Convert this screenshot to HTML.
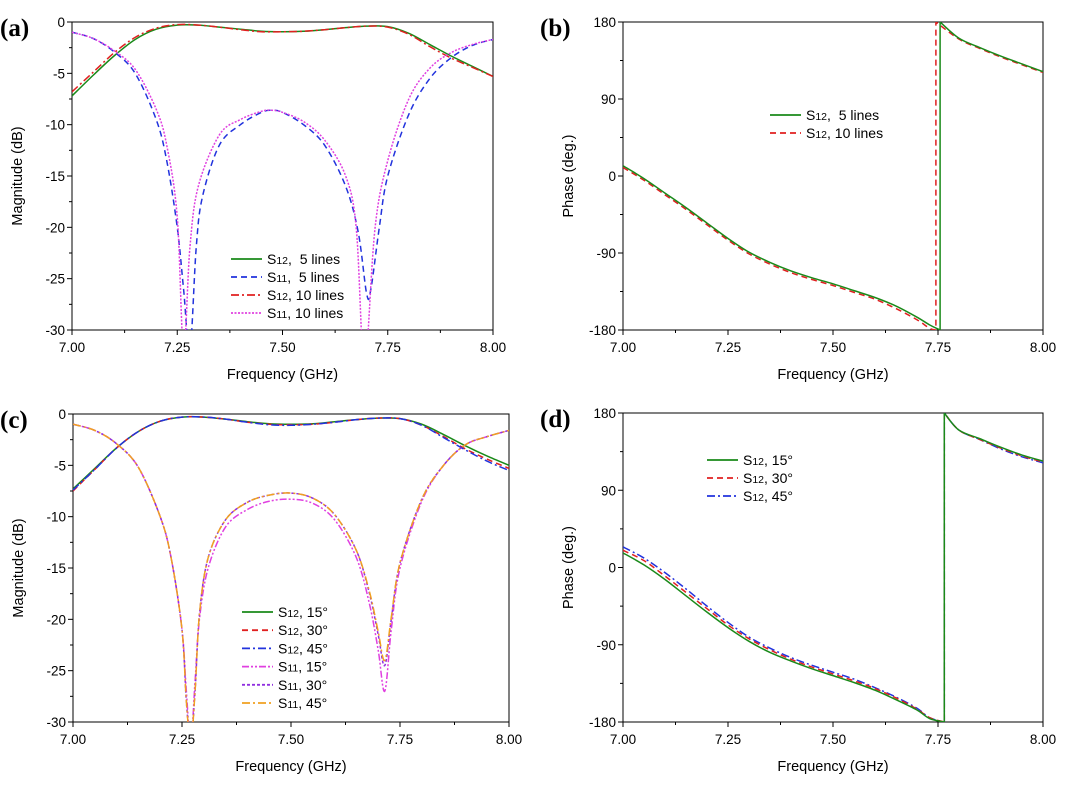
<!DOCTYPE html>
<html><head><meta charset="utf-8"><style>
html,body{margin:0;padding:0;background:#fff;}
svg{display:block;font-family:"Liberation Sans",sans-serif;}
</style></head><body>
<svg id="fig" width="1080" height="793" viewBox="0 0 1080 793"></svg>
<script>
// ---- Data ----
const fA = [7.00,7.05,7.10,7.15,7.20,7.25,7.30,7.35,7.40,7.45,7.50,7.55,7.60,7.65,7.70,7.75,7.80,7.85,7.90,7.95,8.00];
const aS12_5 = [-7.2,-5.2,-3.3,-1.7,-0.7,-0.3,-0.3,-0.5,-0.7,-0.9,-0.95,-0.9,-0.75,-0.55,-0.4,-0.45,-1.1,-2.2,-3.3,-4.3,-5.3];
const aS12_10 = [-6.8,-4.9,-3.0,-1.5,-0.6,-0.25,-0.3,-0.5,-0.75,-0.95,-0.95,-0.9,-0.75,-0.55,-0.4,-0.5,-1.2,-2.4,-3.5,-4.4,-5.3];
const fS11a5 = [7.00,7.05,7.10,7.15,7.20,7.225,7.25,7.265,7.28,7.295,7.31,7.35,7.40,7.45,7.475,7.50,7.55,7.60,7.65,7.68,7.70,7.71,7.73,7.75,7.80,7.85,7.90,7.95,8.00];
const aS11_5 = [-1.0,-1.6,-2.9,-5.0,-9.5,-13.5,-20,-26,-32,-22,-17,-12,-10,-8.8,-8.6,-8.8,-10,-12,-16,-20.5,-26.5,-26,-20,-15,-9,-5.5,-3.5,-2.3,-1.7];
const fS11a10 = [7.00,7.05,7.10,7.15,7.20,7.225,7.25,7.265,7.28,7.30,7.35,7.40,7.45,7.475,7.50,7.55,7.60,7.65,7.675,7.69,7.70,7.72,7.75,7.80,7.85,7.90,7.95,8.00];
const aS11_10 = [-1.0,-1.6,-2.8,-4.6,-8.5,-12,-19,-32,-22,-16,-11,-9.5,-8.7,-8.6,-8.8,-9.7,-11.5,-15,-20,-32,-32,-20,-13.5,-7.5,-4.5,-3.0,-2.2,-1.7];

const fPh = [7.00,7.05,7.10,7.15,7.20,7.25,7.30,7.35,7.40,7.45,7.50,7.55,7.60,7.65,7.70,7.73];
const bPh5 = [12,-3,-20,-37,-55,-73,-89,-101,-111,-119,-126,-134,-142,-152,-165,-174];
const bPh10 = [10,-5,-22,-39,-57,-75,-91,-103,-113,-121,-128,-136,-144,-155,-168,-178];
const fPh2 = [7.80,7.85,7.90,7.95,8.00];
const bPhB5 = [161,150,140,131,122];
const bPhB10 = [160,149,139,130,121];
const bJump5 = 7.755, bJump10 = 7.745;

const cS12_15 = [-7.3,-5.3,-3.3,-1.7,-0.7,-0.3,-0.3,-0.5,-0.75,-0.95,-1.0,-0.95,-0.75,-0.55,-0.4,-0.45,-1.0,-2.0,-3.1,-4.1,-5.0];
const cS12_30 = [-7.5,-5.4,-3.3,-1.7,-0.7,-0.3,-0.3,-0.5,-0.8,-1.0,-1.05,-1.0,-0.8,-0.55,-0.4,-0.45,-1.1,-2.2,-3.4,-4.4,-5.3];
const cS12_45 = [-7.4,-5.4,-3.3,-1.7,-0.7,-0.3,-0.3,-0.5,-0.8,-1.05,-1.1,-1.0,-0.8,-0.55,-0.4,-0.45,-1.1,-2.3,-3.5,-4.6,-5.5];
const fC11 = [7.00,7.05,7.10,7.15,7.20,7.225,7.25,7.26,7.27,7.28,7.29,7.31,7.35,7.40,7.45,7.50,7.55,7.60,7.65,7.68,7.70,7.715,7.73,7.75,7.80,7.85,7.90,7.95,8.00];
const cS11_15 = [-1.0,-1.6,-2.9,-5.2,-10,-14,-21,-27,-32,-26,-20,-15,-11,-9.3,-8.5,-8.3,-8.7,-10.3,-14,-18.5,-23,-27,-21,-15,-8.5,-5,-3.0,-2.2,-1.6];
const cS11_30 = [-1.0,-1.6,-2.9,-5.2,-10,-14,-21,-28,-32,-27,-19.5,-14,-10.3,-8.6,-7.9,-7.7,-8.2,-9.8,-13.3,-17.5,-21.5,-24.5,-20,-14.5,-8.3,-5,-3.0,-2.2,-1.6];
const cS11_45 = [-1.0,-1.6,-2.9,-5.2,-10,-14,-21,-28,-32,-27,-19.5,-14,-10.3,-8.6,-7.9,-7.7,-8.2,-9.8,-13.3,-17.3,-21.2,-24,-19.8,-14.5,-8.3,-5,-3.0,-2.2,-1.6];

const dPh15 = [17,3,-14,-33,-52,-70,-86,-99,-109,-118,-126,-134,-143,-154,-166,-176];
const dPh30 = [20,8,-10,-29,-48,-67,-83,-96,-107,-116,-124,-132,-141,-152,-165,-175];
const dPh45 = [24,11,-6,-25,-45,-64,-81,-94,-105,-114,-122,-130,-140,-151,-164,-175];
const dPhB15 = [160,150,140,131,124];
const dPhB30 = [160,149,139,130,123];
const dPhB45 = [160,149,138,129,122];
const dJump = 7.765;

const xTicks = ["7.00","7.25","7.50","7.75","8.00"];
const magTicks = ["0","-5","-10","-15","-20","-25","-30"];
const phTicks = ["180","90","0","-90","-180"];

// ---- Drawing ----
const NS = "http://www.w3.org/2000/svg";
const svg = document.getElementById("fig");
function mk(tag, attrs, parent){const e=document.createElementNS(NS,tag);for(const k in attrs)e.setAttribute(k,attrs[k]);(parent||svg).appendChild(e);return e;}

function panel(id, box, ymin, ymax, yTickVals, yLabels, yMinorStep, ylabel, letter){
  const g = mk("g",{});
  
  
  const sx = v => box.x0 + (v-7)/(1)*(box.x1-box.x0);
  const sy = v => box.y0 + (ymax-v)/(ymax-ymin)*(box.y1-box.y0);
  const cp = mk("clipPath",{id:"clip"+id},g);
  mk("rect",{x:box.x0,y:box.y0,width:box.x1-box.x0,height:box.y1-box.y0},cp);
  const fr = mk("rect",{x:box.x0,y:box.y0,width:box.x1-box.x0,height:box.y1-box.y0,fill:"none",stroke:"#000","stroke-width":1},g);
  
  
  for(let i=0;i<=8;i++){const v=7+i*0.125;const x=sx(v);mk("line",{x1:x,y1:box.y1,x2:x,y2:box.y1+(i%2?3:5),stroke:"#000"},g);}
  xTicks.forEach(t=>{const tx=mk("text",{x:sx(+t),y:box.y1+22,"text-anchor":"middle","font-size":13.5},g);tx.textContent=t;
    
    });
  for(let v=ymin; v<=ymax+1e-9; v+=yMinorStep){const y=sy(v);const major=yTickVals.some(t=>Math.abs(t-v)<1e-6);mk("line",{x1:box.x0,y1:y,x2:box.x0-(major?5:3),y2:y,stroke:"#000"},g);}
  yTickVals.forEach((v,i)=>{const tx=mk("text",{x:box.x0-7,y:sy(v)+5,"text-anchor":"end","font-size":13.5},g);tx.textContent=yLabels[i];
    
    });
  const xl = mk("text",{x:(box.x0+box.x1)/2,y:box.y1+49,"text-anchor":"middle","font-size":14.5},g);
  xl.textContent="Frequency (GHz)";
  
  
  const yl = mk("text",{transform:`translate(${box.x0-50},${(box.y0+box.y1)/2}) rotate(-90)`,"text-anchor":"middle","font-size":14.5},g);
  yl.textContent=ylabel;
  
  
  const pl = mk("text",{x:box.lx,y:box.y0+14,"font-size":25,"font-weight":"bold","font-family":"Liberation Serif, serif"},g);
  pl.textContent=letter;
  
  
  return {g,sx,sy,clip:"url(#clip"+id+")"};
}

function smooth(pts){
  if(pts.length<2) return "";
  let d=`M${pts[0][0]},${pts[0][1]}`;
  for(let i=0;i<pts.length-1;i++){
    const p0=pts[Math.max(0,i-1)],p1=pts[i],p2=pts[i+1],p3=pts[Math.min(pts.length-1,i+2)];
    const c1=[p1[0]+(p2[0]-p0[0])/6,p1[1]+(p2[1]-p0[1])/6];
    const c2=[p2[0]-(p3[0]-p1[0])/6,p2[1]-(p3[1]-p1[1])/6];
    d+=` C${c1[0]},${c1[1]} ${c2[0]},${c2[1]} ${p2[0]},${p2[1]}`;
  }
  return d;
}
function series(P, xs, ys, color, dash, name, w){
  const pts = xs.map((x,i)=>[P.sx(x),P.sy(ys[i])]);
  const p = mk("path",{d:smooth(pts),fill:"none",stroke:color,"stroke-width":w||1.5,"stroke-dasharray":dash||"none","clip-path":P.clip},P.g);
  
  
  return p;
}
function phaseSeries(P, xs1, ys1, jump, xs2, ys2, color, dash, name){
  const pts = xs1.map((x,i)=>[P.sx(x),P.sy(ys1[i])]);
  pts.push([P.sx(jump),P.sy(-180)]);
  let d = smooth(pts);
  const pts2 = [[P.sx(jump),P.sy(180)]].concat(xs2.map((x,i)=>[P.sx(x),P.sy(ys2[i])]));
  d += ` L${P.sx(jump)},${P.sy(180)} ` + smooth(pts2).replace(/^M[^C]*/,"");
  const p = mk("path",{d:d,fill:"none",stroke:color,"stroke-width":1.5,"stroke-dasharray":dash||"none","clip-path":P.clip},P.g);
  
  
}
function legend(P, x, y0, dy, items){
  const lg = mk("g",{},P.g);
  
  
  items.forEach((it,i)=>{
    const y=y0+i*dy;
    const e = mk("g",{},lg);
    
    
    mk("line",{x1:x,y1:y,x2:x+31,y2:y,stroke:it[1],"stroke-width":1.8,"stroke-dasharray":it[2]||"none"},e);
    const t = mk("text",{x:x+36,y:y+5,"font-size":14,"xml:space":"preserve"},e);
    t.setAttribute("style","white-space:pre");
    t.innerHTML = `${it[0][0]}<tspan font-size="10.5">${it[0][1]}</tspan>${it[0][2]}`;
  });
}
const GREEN="#1a8a1a", BLUE="#2233dd", RED="#e02020", MAG="#e040e0", PUR="#9030e0", ORG="#f0a020";
const D_DASH="6,4", D_DD="8,3,2,3", D_DOT="2,1.5", D_DDD="7,2,2,2,2,2", D_SH="3,2";

let A = panel("a",{x0:72,x1:493,y0:22,y1:330,lx:0},-30,0,[0,-5,-10,-15,-20,-25,-30],magTicks,2.5,"Magnitude (dB)","(a)");
series(A,fA,aS12_5,GREEN,null,"s12-5-lines");
series(A,fS11a5,aS11_5,BLUE,D_DASH,"s11-5-lines");
series(A,fA,aS12_10,RED,D_DD,"s12-10-lines");
series(A,fS11a10,aS11_10,MAG,D_DOT,"s11-10-lines");
legend(A,231,259,18,[[["S","12",",  5 lines"],GREEN],[["S","11",",  5 lines"],BLUE,D_DASH],[["S","12",", 10 lines"],RED,D_DD],[["S","11",", 10 lines"],MAG,D_DOT]]);

let B = panel("b",{x0:623,x1:1043,y0:22,y1:330,lx:540},-180,180,[180,90,0,-90,-180],phTicks,45,"Phase (deg.)","(b)");
phaseSeries(B,fPh,bPh10,bJump10,fPh2,bPhB10,RED,D_DASH,"s12-10-lines-phase");
phaseSeries(B,fPh,bPh5,bJump5,fPh2,bPhB5,GREEN,null,"s12-5-lines-phase");
legend(B,770,115,18,[[["S","12",",  5 lines"],GREEN],[["S","12",", 10 lines"],RED,D_DASH]]);

let C = panel("c",{x0:73,x1:509,y0:414,y1:722,lx:0},-30,0,[0,-5,-10,-15,-20,-25,-30],magTicks,2.5,"Magnitude (dB)","(c)");
series(C,fA,cS12_15,GREEN,null,"s12-15deg");
series(C,fA,cS12_30,RED,D_DASH,"s12-30deg");
series(C,fA,cS12_45,BLUE,D_DD,"s12-45deg");
series(C,fC11,cS11_15,MAG,D_DDD,"s11-15deg");
series(C,fC11,cS11_30,PUR,D_SH,"s11-30deg");
series(C,fC11,cS11_45,ORG,D_DD,"s11-45deg");
legend(C,242,612,18.2,[[["S","12",", 15°"],GREEN],[["S","12",", 30°"],RED,D_DASH],[["S","12",", 45°"],BLUE,D_DD],[["S","11",", 15°"],MAG,D_DDD],[["S","11",", 30°"],PUR,D_SH],[["S","11",", 45°"],ORG,D_DD]]);

let Dp = panel("d",{x0:623,x1:1043,y0:413,y1:722,lx:540},-180,180,[180,90,0,-90,-180],phTicks,45,"Phase (deg.)","(d)");
phaseSeries(Dp,fPh,dPh45,dJump,fPh2,dPhB45,BLUE,D_DD,"s12-45deg-phase");
phaseSeries(Dp,fPh,dPh30,dJump,fPh2,dPhB30,RED,D_DASH,"s12-30deg-phase");
phaseSeries(Dp,fPh,dPh15,dJump,fPh2,dPhB15,GREEN,null,"s12-15deg-phase");
legend(Dp,707,460,18,[[["S","12",", 15°"],GREEN],[["S","12",", 30°"],RED,D_DASH],[["S","12",", 45°"],BLUE,D_DD]]);
</script>
</body></html>
